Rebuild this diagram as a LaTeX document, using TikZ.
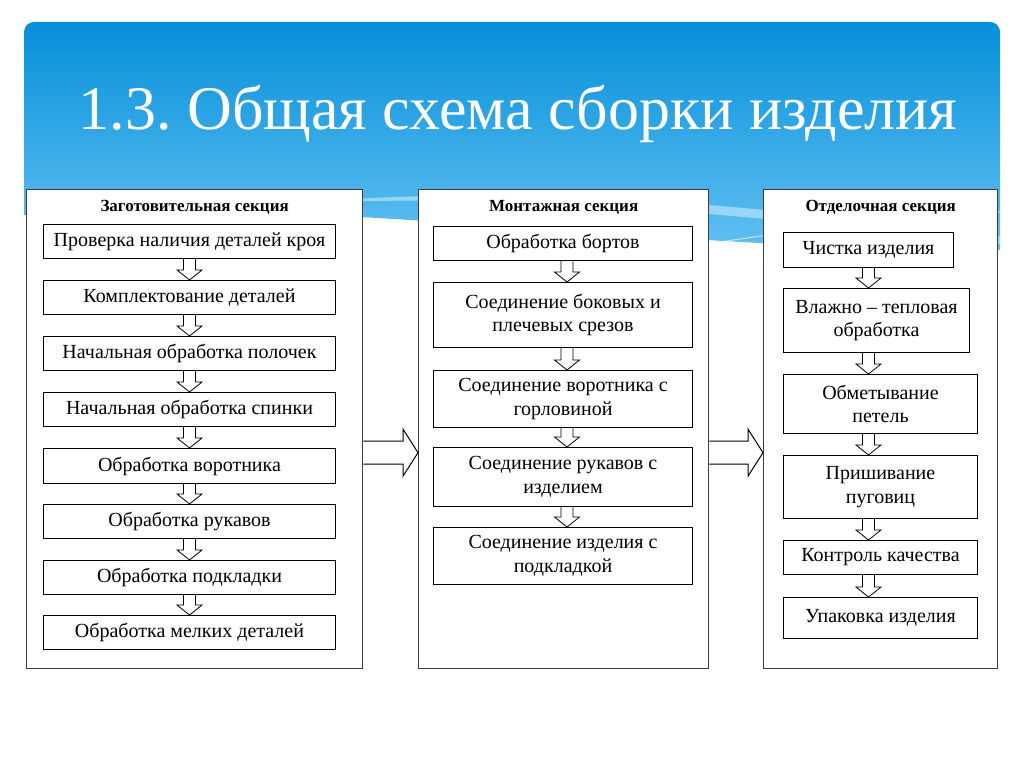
\documentclass[tikz,border=0pt]{standalone}
\usepackage{fontspec}
\setmainfont{Liberation Serif}
\usepackage{tikz}
\usetikzlibrary{calc,positioning}
\definecolor{bannertop}{RGB}{6,144,218}
\definecolor{bannerbot}{RGB}{98,192,242}
\definecolor{swoosh}{RGB}{170,222,250}
\definecolor{framegray}{RGB}{60,60,60}
\newcommand\boxfont{\fontsize{20}{23.5}\selectfont}
\tikzset{
	scheme/.style={x=1pt, y=-1pt, line join=miter},
	section/.style 2 args={draw=framegray, fill=white, line width=1.3pt,
		minimum width=#1, minimum height=#2, inner sep=0pt, anchor=north west},
	header/.style={font=\fontsize{17}{20}\selectfont\bfseries, inner sep=0pt, anchor=base},
	stepbox/.style 2 args={draw, fill=white, line width=1pt, align=center,
		minimum width=#1, minimum height=#2, inner sep=0pt, anchor=north west, font=\boxfont},
	down/.style={draw, fill=white, line width=0.8pt,
		to path={let \p1=(\tikztostart), \p2=(\tikztotarget) in
			(\x1-6pt,\y1) -- (\x1-6pt,\y2+10pt) -- (\x1-12.5pt,\y2+10pt) -- (\x1,\y2)
			-- (\x1+12.5pt,\y2+10pt) -- (\x1+6pt,\y2+10pt) -- (\x1+6pt,\y1)}},
	bigarrow/.style={draw, fill=white, line width=1pt,
		to path={let \p1=(\tikztostart), \p2=(\tikztotarget) in
			(\x1,\y1+11.5pt) -- (\x2-15pt,\y1+11.5pt) -- (\x2-15pt,\y1+23.5pt) -- (\x2,\y1)
			-- (\x2-15pt,\y1-23.5pt) -- (\x2-15pt,\y1-11.5pt) -- (\x1,\y1-11.5pt)}}
}
\begin{document}
\frenchspacing
\begin{tikzpicture}[scheme]
	\useasboundingbox[fill=white] (0,0) rectangle (1024,767);
	% banner
	\shade[top color=bannertop, bottom color=bannerbot]
		(24,215) [rounded corners=10pt] -- (24,22) -- (1000,22) [sharp corners] -- (1000,250)
		.. controls (640,250) and (330,196) .. (24,215) -- cycle;
	\fill[swoosh, opacity=0.8] (300,203) .. controls (560,180) and (820,215) .. (1000,236)
		-- (1000,244) .. controls (800,222) and (560,192) .. (300,203) -- cycle;
	\draw[white, opacity=0.6, line width=1pt] (700,245) .. controls (800,230) and (900,215) .. (1000,212);
	\node[white, font=\fontsize{62}{62}\selectfont, anchor=base] (title) at (518,130) {1.3. Общая схема сборки изделия};

	% sections
	\node[section={336}{479}] (zag) at (26,189) {};
	\node[section={290}{479}] (mon) at (418,189) {};
	\node[section={234}{479}] (otd) at (763,189) {};
	\node[header] (zagh) at ([yshift=-23pt]zag.north) {Заготовительная секция};
	\node[header] (monh) at ([yshift=-23pt]mon.north) {Монтажная секция};
	\node[header] (otdh) at ([yshift=-23pt]otd.north) {Отделочная секция};

	\draw[bigarrow] ([yshift=-23.5pt]zag.east) to ([yshift=-23.5pt]mon.west);
	\draw[bigarrow] ([yshift=-23.5pt]mon.east) to ([yshift=-23.5pt]otd.west);

	% left column
	\node[stepbox={292}{34}] (z1) at (43,224) {Проверка наличия деталей кроя};
	\node[stepbox={292}{34}] (z2) at (43,280) {Комплектование деталей};
	\node[stepbox={292}{34}] (z3) at (43,336) {Начальная обработка полочек};
	\node[stepbox={292}{34}] (z4) at (43,392) {Начальная обработка спинки};
	\node[stepbox={292}{35}] (z5) at (43,448) {Обработка воротника};
	\node[stepbox={292}{34}] (z6) at (43,504) {Обработка рукавов};
	\node[stepbox={292}{34}] (z7) at (43,560) {Обработка подкладки};
	\node[stepbox={292}{34}] (z8) at (43,615) {Обработка мелких деталей};
	\foreach \a/\b in {z1/z2,z2/z3,z3/z4,z4/z5,z5/z6,z6/z7,z7/z8}
		\draw[down] (\a.south) to (\b.north);

	% middle column
	\node[stepbox={259}{34}] (m1) at (433,226) {Обработка бортов};
	\node[stepbox={259}{65}] (m2) at (433,282) {Соединение боковых и\\плечевых срезов};
	\node[stepbox={259}{57}] (m3) at (433,370) {Соединение воротника с\\горловиной};
	\node[stepbox={259}{59}] (m4) at (433,447) {Соединение рукавов с\\изделием};
	\node[stepbox={259}{57}] (m5) at (433,527) {Соединение изделия с\\подкладкой};
	\foreach \a/\b in {m1/m2,m2/m3,m3/m4,m4/m5}
		\draw[down] ([xshift=4pt]\a.south) to (\b.north);

	% right column
	\node[stepbox={170}{35}] (o1) at (783,232) {Чистка изделия};
	\node[stepbox={186}{64}] (o2) at (783,288) {Влажно – тепловая\\обработка};
	\node[stepbox={194}{59}] (o3) at (783,374) {Обметывание\\петель};
	\node[stepbox={194}{63}] (o4) at (783,455) {Пришивание\\пуговиц};
	\node[stepbox={194}{34}] (o5) at (783,540) {Контроль качества};
	\node[stepbox={194}{41}] (o6) at (783,597) {Упаковка изделия};
	\foreach \a/\b in {o1/o2,o2/o3,o3/o4,o4/o5,o5/o6}
		\draw[down] (o1.south |- \a.south) to (\b.north);
\end{tikzpicture}
\end{document}
